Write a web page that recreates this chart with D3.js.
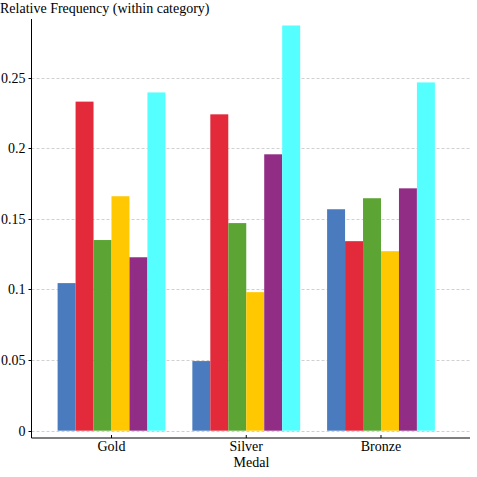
<!DOCTYPE html>
<html>
<head>
<meta charset="utf-8">
<script src="https://cdn.jsdelivr.net/npm/d3@7"></script>
</head>
<body style="margin:0; background:#fff">
<script>
// Medal categories and the six series (relative frequency within medal)
const medals = ["Gold", "Silver", "Bronze"];
const seriesNames = ["s1", "s2", "s3", "s4", "s5", "s6"];
const seriesColors = ["#4a7bbf", "#e32a3a", "#5ca535", "#ffc800", "#922d85", "#55ffff"];
const values = [
  [0.1045, 0.233, 0.135, 0.166, 0.1228, 0.2395],   // Gold
  [0.0493, 0.224, 0.147, 0.0981, 0.1957, 0.2869],  // Silver
  [0.1568, 0.1342, 0.1646, 0.1271, 0.1716, 0.2466] // Bronze
];
const yTicks = [0, 0.05, 0.1, 0.15, 0.2, 0.25];

const width = 477, height = 477;
const plotLeft = 31.5, plotRight = 469.5, plotTop = 19, zeroY = 430.7, axisY = 438;
const fontFam = "Times New Roman, Liberation Serif, serif";

const svg = d3.select("body").append("svg")
  .attr("width", width)
  .attr("height", height);

const x0 = d3.scaleBand()
  .domain(medals)
  .range([32, 460.5])
  .paddingInner(0.2)
  .paddingOuter(0.19);

const x1 = d3.scaleBand()
  .domain(seriesNames)
  .range([0, x0.bandwidth()]);

const y = d3.scaleLinear()
  .domain([0, 0.2915])
  .range([zeroY, plotTop]);

// grid lines
svg.append("g").selectAll("line")
  .data(yTicks)
  .enter().append("line")
  .attr("x1", plotLeft)
  .attr("x2", plotRight)
  .attr("y1", d => Math.round(y(d)) + 0.5)
  .attr("y2", d => Math.round(y(d)) + 0.5)
  .attr("stroke", "#d0d0d0")
  .attr("stroke-dasharray", "3,2");

// bars
const groups = svg.append("g").selectAll("g")
  .data(medals)
  .enter().append("g")
  .attr("transform", d => `translate(${x0(d)},0)`);

groups.selectAll("rect")
  .data((d, i) => values[i].map((v, j) => ({ key: seriesNames[j], v, color: seriesColors[j] })))
  .enter().append("rect")
  .attr("x", d => x1(d.key))
  .attr("width", x1.bandwidth())
  .attr("y", d => y(d.v))
  .attr("height", d => y(0) - y(d.v))
  .attr("fill", d => d.color);

// y axis
const yAxis = svg.append("g")
  .attr("transform", `translate(${plotLeft},0)`);
yAxis.append("line")
  .attr("x1", 0).attr("x2", 0)
  .attr("y1", plotTop).attr("y2", axisY)
  .attr("stroke", "#000");
const yt = yAxis.selectAll(".tick")
  .data(yTicks)
  .enter().append("g")
  .attr("transform", d => `translate(0,${Math.round(y(d)) + 0.5})`);
yt.append("line").attr("x1", -3).attr("x2", 0).attr("stroke", "#000");
yt.append("text")
  .attr("x", -6)
  .attr("dy", "0.35em")
  .attr("text-anchor", "end")
  .style("font-family", fontFam)
  .style("font-size", "14px")
  .text(d => d3.format("")(d));

// x axis
const xAxis = svg.append("g")
  .attr("transform", `translate(0,${axisY})`);
xAxis.append("line")
  .attr("x1", plotLeft).attr("x2", plotRight + 0.5)
  .attr("stroke", "#000");
const xt = xAxis.selectAll(".tick")
  .data(medals)
  .enter().append("g")
  .attr("transform", d => `translate(${x0(d) + x0.bandwidth() / 2},0)`);
xt.append("line").attr("y1", -3).attr("y2", 0).attr("stroke", "#000");
xt.append("text")
  .attr("y", 12.5)
  .attr("text-anchor", "middle")
  .style("font-family", fontFam)
  .style("font-size", "14px")
  .text(d => d);

// axis titles
svg.append("text")
  .attr("x", (plotLeft + plotRight) / 2 + 1)
  .attr("y", 467)
  .attr("text-anchor", "middle")
  .style("font-family", fontFam)
  .style("font-size", "14px")
  .text("Medal");

svg.append("text")
  .attr("x", 0)
  .attr("y", 13)
  .style("font-family", fontFam)
  .style("font-size", "14px")
  .text("Relative Frequency (within category)");
</script>
</body>
</html>
